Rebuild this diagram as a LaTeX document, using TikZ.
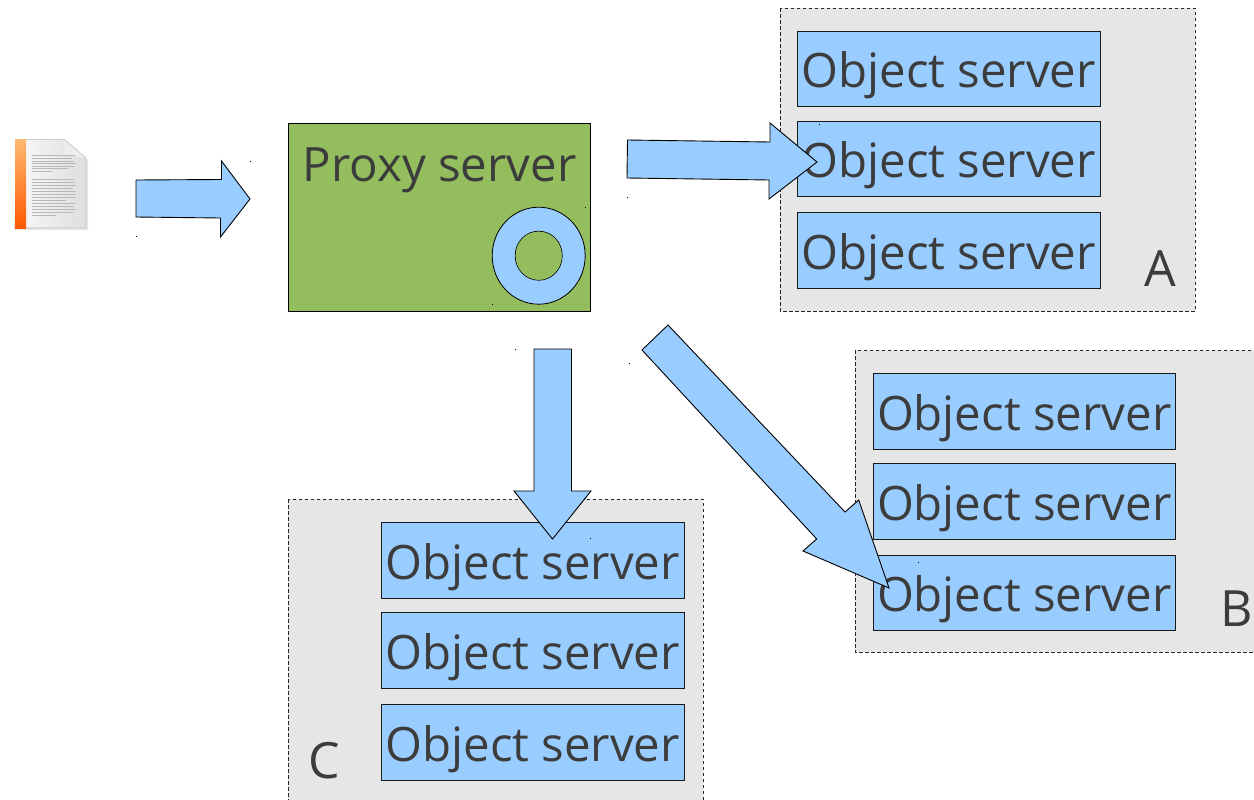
\documentclass[tikz,border=0pt]{standalone}
\usepackage{fontspec}
\setmainfont{Open Sans}
\definecolor{txt}{HTML}{3C3C3C}
\definecolor{blu}{HTML}{99CCFF}
\definecolor{grn}{HTML}{94BD5E}
\definecolor{gry}{HTML}{E6E6E6}
\tikzset{
  x=1pt,y=-1pt,
  zone/.style={fill=gry,draw=black!85,line width=0.9pt,dash pattern=on 3.5pt off 2.5pt},
  srv/.style={fill=blu,draw=black!90,line width=0.8pt},
  blockarrow/.style={fill=blu,draw=black,line width=0.9pt,line join=miter},
  lbl/.style={text=txt,inner sep=0pt,font=\fontsize{47.4}{48}\selectfont},
  letter/.style={text=txt,inner sep=0pt,font=\fontsize{50}{50}\selectfont},
  speck/.style={fill=black,draw=none},
  docline/.style={draw=black!28,line width=0.6pt},
}
\newcommand{\srvbox}[5]{%
  \draw[srv] (#2,#3) rectangle (#4,#5);
  \node[lbl] (#1) at ({(#2+#4)/2},{(#3+#5)/2+6.5}) {Object server};
}
\begin{document}
\begin{tikzpicture}
\useasboundingbox (0,0) rectangle (1254,800);
\begin{scope}
\clip (0,0) rectangle (1254,800);
\begin{scope}[xshift=0.2pt,yshift=-0.2pt]
% zones
\draw[zone] (780,8) rectangle (1195,311);
\draw[zone] (855,350) rectangle (1270,652);
\draw[zone] (288,499) rectangle (703,820);
% object servers
\srvbox{a1}{797}{31}{1100}{106}
\srvbox{a2}{797}{121}{1100}{196}
\srvbox{a3}{797}{212}{1100}{288}
\srvbox{b1}{873}{373}{1175}{449}
\srvbox{b2}{873}{463}{1175}{539}
\srvbox{b3}{873}{555}{1175}{630}
\srvbox{c1}{381}{522}{684}{598}
\srvbox{c2}{381}{612}{684}{688}
\srvbox{c3}{381}{704}{684}{780}
\node[letter] (la) at (1160.5,268) {A};
\node[letter] (lb) at (1236,608) {B};
\node[letter] (lc) at (324,760) {C};
% proxy
\draw[fill=grn,draw=black,line width=0.8pt] (288,123) rectangle (590,311);
\node[lbl] (proxy) at (439.5,170.5) {Proxy server};
\draw[fill=blu,draw=black,line width=0.8pt,even odd rule] (538.5,255.5) ellipse [x radius=46.5,y radius=48.5] (538.5,255.5) ellipse [x radius=23.5,y radius=24.5];
\fill[grn] (538.5,255.5) ellipse [x radius=23.1,y radius=24.1];
\end{scope}
% document icon
\fill[black!9] (17,141) -- (66,141) -- (88,160) -- (88,230) -- (14,230) -- cycle;
\shade[left color=black!4,right color=black!13] (26,139) -- (64,139) -- (86,158) -- (86,227) -- (26,227) -- cycle;
\shade[top color=orange!55!white,bottom color=orange!70!red] (15,139) rectangle (26,228);
\fill[black!7] (64,139) -- (65,155) -- (86,158) -- cycle;
\draw[black!25,line width=0.6pt] (64,139) -- (86,158) -- (86,228) -- (26,228);
\draw[black!20,line width=0.6pt] (26,139) -- (64,139);
\foreach \y/\e in {155/75,158/72,161/74,163/76,166/74,168/68,171/52,179/74,182/75,185/76,188/73,191/76,194/75,197/76,200/66,203/76,206/74,209/76,212/73,215/56}{
  \draw[docline] (32,\y) -- (\e,\y);
}
% arrows
\draw[blockarrow] (136,180) -- (221.5,179.5) -- (221.5,161) -- (250,199) -- (220.5,237) -- (220.5,218) -- (136,217) -- cycle;
\draw[blockarrow] (627.5,140) -- (770,142) -- (770,123) -- (817,162) -- (769,199) -- (769,180) -- (627,178) -- cycle;
\draw[blockarrow] (534,349) -- (571.5,349) -- (571.5,491) -- (591,491) -- (552.5,539) -- (514,491) -- (534,491) -- cycle;
\draw[blockarrow] (668,325) -- (845,512) -- (858.7,500) -- (889,588) -- (803,551) -- (816.7,539) -- (642,350) -- cycle;
% specks
\foreach \x/\y in {250/161,136/236,627/197,585/207,492/304,515/349,629/363,819/124,918/562,590/538}{
  \fill[speck] (\x,\y) rectangle ++(1,1);
}
\end{scope}
\end{tikzpicture}
\end{document}
